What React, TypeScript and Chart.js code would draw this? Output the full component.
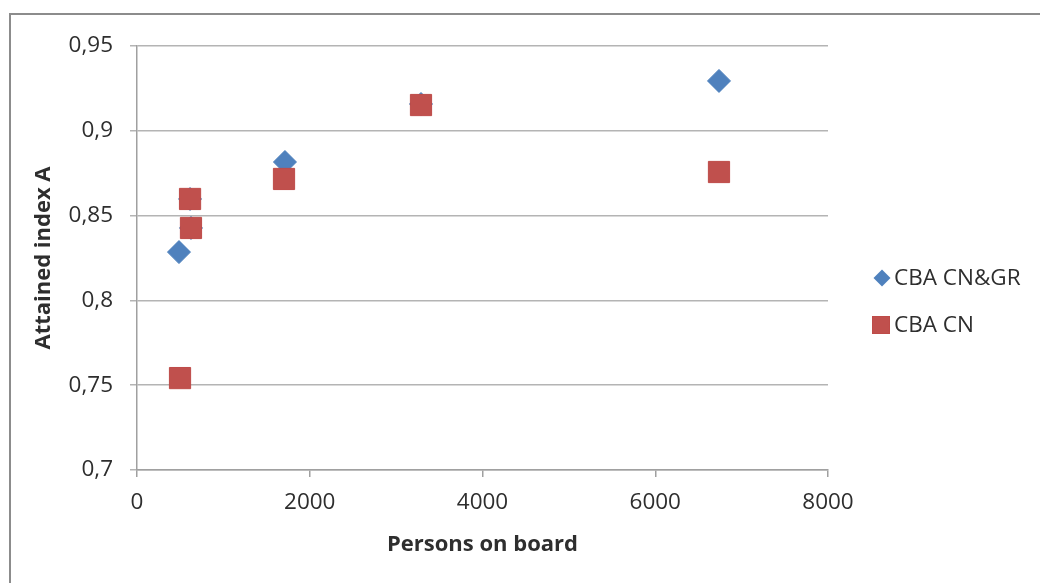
import React, { useEffect, useRef } from "react";
import { Chart, registerables } from "chart.js";

Chart.register(...registerables);

const seriesNames = ["CBA CN&GR", "CBA CN"];
const cnGrX = [486, 614, 625, 1713, 3288, 6738];
const cnGrY = [0.8285, 0.8598, 0.8427, 0.8816, 0.9158, 0.9294];
const cnX = [498, 614, 625, 1702, 3288, 6738];
const cnY = [0.7542, 0.8598, 0.8427, 0.8716, 0.9152, 0.8757];
const xTicks = [0, 2000, 4000, 6000, 8000];
const yTicks = [0.7, 0.75, 0.8, 0.85, 0.9, 0.95];
const xTitle = "Persons on board";
const yTitle = "Attained index A";

const BLUE = "#4F81BD";
const BLUE_BORDER = "#4A7EBB";
const RED = "#C0504D";
const RED_BORDER = "#BE4B48";
const TEXT = "#2E2E2E";
const FONT = "'Open Sans', 'DejaVu Sans', sans-serif";

const legendPlugin = {
  id: "customLegend",
  afterDraw(chart: any) {
    const ctx = chart.ctx;
    ctx.save();
    ctx.font = `22.5px ${FONT}`;
    ctx.fillStyle = TEXT;
    ctx.textBaseline = "middle";
    ctx.textAlign = "left";
    // diamond
    const dx = 882, dy = 278, dr = 8.5;
    ctx.beginPath();
    ctx.moveTo(dx - dr, dy);
    ctx.lineTo(dx, dy - dr);
    ctx.lineTo(dx + dr, dy);
    ctx.lineTo(dx, dy + dr);
    ctx.closePath();
    ctx.fillStyle = BLUE;
    ctx.fill();
    ctx.fillStyle = TEXT;
    ctx.fillText(seriesNames[0], 894, dy + 1);
    // square
    const sx = 881, sy = 325, s = 8.5;
    ctx.fillStyle = RED;
    ctx.fillRect(sx - s, sy - s, 2 * s, 2 * s);
    ctx.strokeStyle = RED_BORDER;
    ctx.lineWidth = 1;
    ctx.strokeRect(sx - s, sy - s, 2 * s, 2 * s);
    ctx.fillStyle = TEXT;
    ctx.fillText(seriesNames[1], 894, sy + 1);
    ctx.restore();
  },
};

function fmtY(v: number) {
  let s = v.toFixed(2);
  s = s.replace(/0+$/, "").replace(/\.$/, "");
  return s.replace(".", ",");
}

export default function App() {
  const ref = useRef<HTMLCanvasElement | null>(null);

  useEffect(() => {
    document.body.style.margin = "0";
    const canvas = ref.current!;
    const chart = new Chart(canvas, {
      type: "scatter",
      data: {
        datasets: [
          {
            label: seriesNames[0],
            data: cnGrX.map((x, i) => ({ x, y: cnGrY[i] })),
            pointStyle: "rectRot",
            pointRadius: 11.5,
            pointHoverRadius: 11.5,
            backgroundColor: BLUE,
            borderColor: BLUE_BORDER,
            borderWidth: 1,
            order: 1,
          },
          {
            label: seriesNames[1],
            data: cnX.map((x, i) => ({ x, y: cnY[i] })),
            pointStyle: "rect",
            pointRadius: 15,
            pointHoverRadius: 15,
            backgroundColor: RED,
            borderColor: RED_BORDER,
            borderWidth: 1,
            order: 0,
          },
        ],
      },
      options: {
        responsive: false,
        animation: false,
        events: [],
        layout: { padding: { left: 10, top: 46, right: 212, bottom: 0 } },
        plugins: {
          legend: { display: false },
          tooltip: { enabled: false },
        },
        scales: {
          x: {
            type: "linear",
            min: xTicks[0],
            max: xTicks[xTicks.length - 1],
            afterBuildTicks: (scale: any) => {
              scale.ticks = xTicks.map((v) => ({ value: v }));
            },
            afterFit: (scale: any) => {
              scale.height = 113;
            },
            ticks: {
              color: TEXT,
              font: { family: FONT, size: 22.5 },
              padding: 12,
              maxRotation: 0,
              callback: (v: any) => String(v),
            },
            grid: {
              drawOnChartArea: false,
              drawTicks: true,
              tickLength: 7,
              color: "#A0A0A0",
              lineWidth: 1.5,
            },
            border: { display: true, color: "#A0A0A0", width: 1.5 },
            title: {
              display: true,
              text: xTitle,
              color: TEXT,
              font: { family: FONT, size: 22, weight: "bold" },
              padding: { top: 0, bottom: 25 },
            },
          },
          y: {
            type: "linear",
            min: yTicks[0],
            max: yTicks[yTicks.length - 1],
            afterBuildTicks: (scale: any) => {
              scale.ticks = yTicks.map((v) => ({ value: v }));
            },
            afterFit: (scale: any) => {
              scale.width = 127;
            },
            ticks: {
              color: TEXT,
              font: { family: FONT, size: 22.5 },
              padding: 17,
              callback: (v: any) => fmtY(Number(v)),
            },
            grid: {
              drawOnChartArea: true,
              drawTicks: true,
              tickLength: 7,
              color: "#B4B4B4",
              lineWidth: 1.5,
            },
            border: { display: true, color: "#A0A0A0", width: 1.5 },
            title: {
              display: true,
              text: yTitle,
              color: TEXT,
              font: { family: FONT, size: 22, weight: "bold" },
              padding: { top: 21, bottom: 0 },
            },
          },
        },
      },
      plugins: [legendPlugin],
    });
    return () => chart.destroy();
  }, []);

  return (
    <div style={{ position: "relative", width: 1040, height: 583, overflow: "hidden", background: "#fff" }}>
      <div
        style={{
          position: "absolute",
          left: 9,
          top: 13,
          width: 1200,
          height: 800,
          border: "2px solid #8C8C8C",
          boxSizing: "border-box",
        }}
      />
      <canvas ref={ref} width={1040} height={583} style={{ position: "absolute", left: 0, top: 0 }} />
    </div>
  );
}
